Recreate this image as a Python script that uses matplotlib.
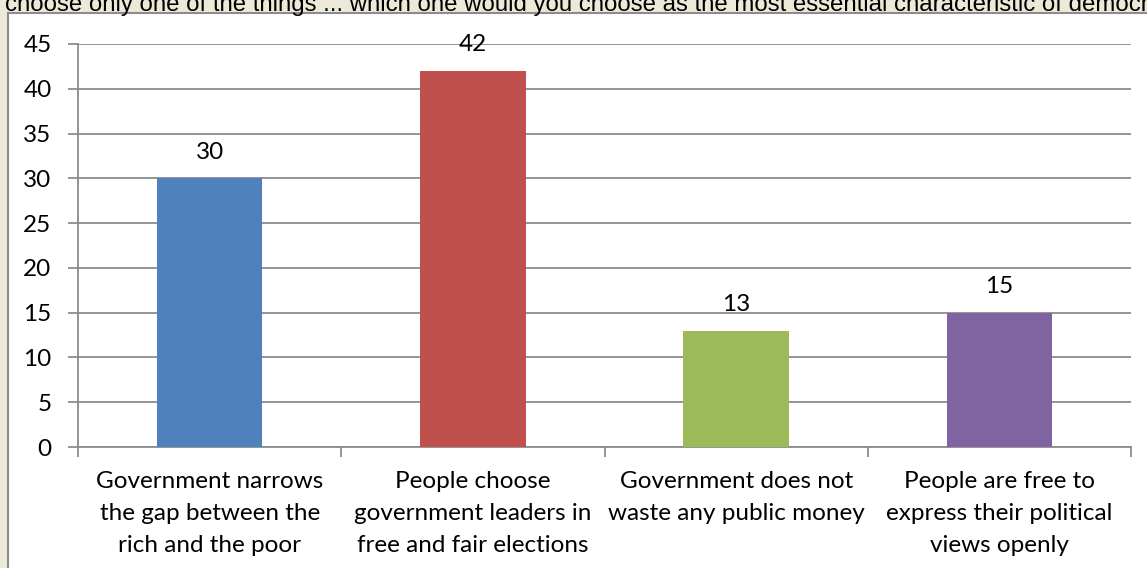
import matplotlib
matplotlib.use("Agg")
import matplotlib.pyplot as plt
from matplotlib.patches import Rectangle

categories = [
    "Government narrows\nthe gap between the\nrich and the poor",
    "People choose\ngovernment leaders in\nfree and fair elections",
    "Government does not\nwaste any public money",
    "People are free to\nexpress their political\nviews openly",
]
values = [30, 42, 13, 15]
colors = ["#4F81BD", "#C0504D", "#9BBB59", "#8064A2"]
yticks = [0, 5, 10, 15, 20, 25, 30, 35, 40, 45]
title = ("choose only one of the things ... which one would you choose as the "
         "most essential characteristic of democracy?")

W, H = 1147, 568
fig = plt.figure(figsize=(W / 100, H / 100), dpi=100)
fig.patch.set_facecolor("#ECE9D8")

px = lambda x: x / W
py = lambda y: 1 - y / H
panel = Rectangle((px(8), -0.1), 1.2, py(13) + 0.1, transform=fig.transFigure,
                  facecolor="white", edgecolor="#8C8C8C", linewidth=1.5, zorder=-5)
fig.patches.append(panel)

fig.text(px(5), py(11.5), title, fontsize=17.3, family="Liberation Sans",
         va="baseline", ha="left", color="#000000", zorder=-4)

ax = fig.add_axes([px(78), py(447), px(1131) - px(78), py(44) - py(447)])
ax.set_zorder(1)
ax.set_facecolor("white")
font = "Lato"
fs = 17.5
x = list(range(len(values)))
bars = ax.bar(x, values, width=0.4, color=colors, zorder=3)
for xi, v in zip(x, values):
    ax.text(xi, v + 2.2, str(v), ha="center", va="baseline", fontsize=fs,
            family=font, color="black")

ax.set_xlim(-0.5, len(values) - 0.5)
ax.set_ylim(0, 45)
ax.set_yticks(yticks)
ax.set_yticklabels([str(t) for t in yticks], fontsize=fs, family=font)
ax.yaxis.grid(True, color="#8C8C8C", linewidth=1.3, zorder=0)
ax.set_axisbelow(True)
ax.set_xticks([i - 0.5 for i in range(len(values) + 1)])
ax.set_xticklabels([])
ax.set_xticks(x, minor=True)
ax.set_xticklabels(categories, minor=True, fontsize=fs, family=font,
                   linespacing=1.65)
ax.tick_params(axis="x", which="minor", length=0, pad=17)
ax.tick_params(axis="x", which="major", length=7, color="#8C8C8C", width=1.3)
ax.tick_params(axis="y", length=7, color="#8C8C8C", width=1.3, pad=12)
for s in ["top", "right"]:
    ax.spines[s].set_visible(False)
for s in ["left", "bottom"]:
    ax.spines[s].set_color("#8C8C8C")
    ax.spines[s].set_linewidth(1.3)

fig.savefig("out.png", dpi=100, facecolor=fig.get_facecolor())
